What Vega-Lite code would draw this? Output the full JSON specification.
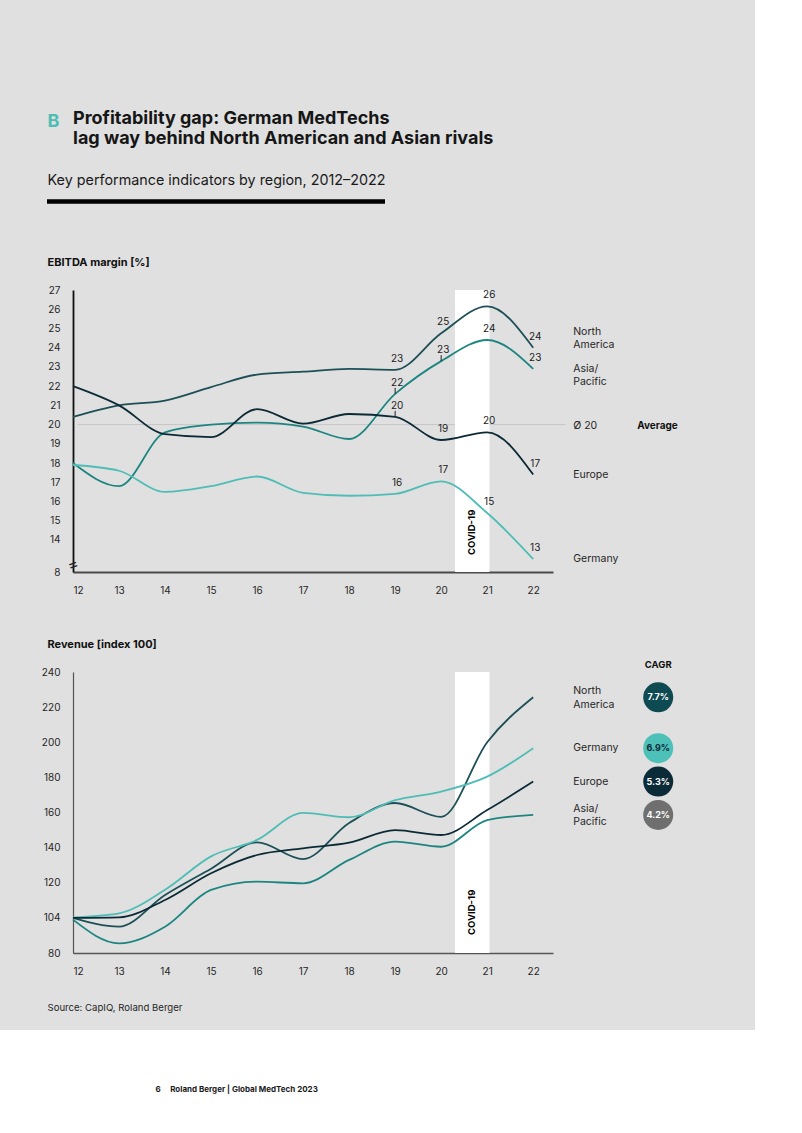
{
  "$schema": "https://vega.github.io/schema/vega-lite/v6.json",
  "width": 755,
  "height": 1030,
  "autosize": {"type": "none"},
  "padding": {"left": 0, "top": 0, "right": 47, "bottom": 103},
  "background": "#ffffff",
  "config": {
    "font": "Inter",
    "view": {"fill": "#e0e0e0", "stroke": null},
    "axis": {"labelFont": "Inter", "titleFont": "Inter", "grid": false, "ticks": false},
    "text": {"font": "Inter"}
  },
  "title": {
    "text": ["Profitability gap: German MedTechs", "lag way behind North American and Asian rivals"],
    "anchor": "start",
    "frame": "group",
    "orient": "top",
    "dx": 73,
    "offset": -148,
    "font": "Inter",
    "fontSize": 18,
    "fontWeight": "bold",
    "color": "#161616",
    "lineHeight": 20
  },
  "datasets": {
    "ebitda": [
      {"region": "North America", "year": 2012, "value": 20.4},
      {"region": "North America", "year": 2013, "value": 21.0},
      {"region": "North America", "year": 2014, "value": 21.25},
      {"region": "North America", "year": 2015, "value": 21.95},
      {"region": "North America", "year": 2016, "value": 22.6},
      {"region": "North America", "year": 2017, "value": 22.75},
      {"region": "North America", "year": 2018, "value": 22.9},
      {"region": "North America", "year": 2019, "value": 22.85},
      {"region": "North America", "year": 2020, "value": 24.75},
      {"region": "North America", "year": 2021, "value": 26.15},
      {"region": "North America", "year": 2022, "value": 24.0},
      {"region": "Asia/Pacific", "year": 2012, "value": 18.0},
      {"region": "Asia/Pacific", "year": 2013, "value": 16.8},
      {"region": "Asia/Pacific", "year": 2014, "value": 19.6},
      {"region": "Asia/Pacific", "year": 2015, "value": 20.0},
      {"region": "Asia/Pacific", "year": 2016, "value": 20.1},
      {"region": "Asia/Pacific", "year": 2017, "value": 19.9},
      {"region": "Asia/Pacific", "year": 2018, "value": 19.25},
      {"region": "Asia/Pacific", "year": 2019, "value": 21.6},
      {"region": "Asia/Pacific", "year": 2020, "value": 23.3},
      {"region": "Asia/Pacific", "year": 2021, "value": 24.4},
      {"region": "Asia/Pacific", "year": 2022, "value": 22.9},
      {"region": "Europe", "year": 2012, "value": 22.0},
      {"region": "Europe", "year": 2013, "value": 21.0},
      {"region": "Europe", "year": 2014, "value": 19.5},
      {"region": "Europe", "year": 2015, "value": 19.35},
      {"region": "Europe", "year": 2016, "value": 20.8},
      {"region": "Europe", "year": 2017, "value": 20.05},
      {"region": "Europe", "year": 2018, "value": 20.55},
      {"region": "Europe", "year": 2019, "value": 20.4},
      {"region": "Europe", "year": 2020, "value": 19.2},
      {"region": "Europe", "year": 2021, "value": 19.6},
      {"region": "Europe", "year": 2022, "value": 17.4},
      {"region": "Germany", "year": 2012, "value": 17.9},
      {"region": "Germany", "year": 2013, "value": 17.6},
      {"region": "Germany", "year": 2014, "value": 16.5},
      {"region": "Germany", "year": 2015, "value": 16.8},
      {"region": "Germany", "year": 2016, "value": 17.3},
      {"region": "Germany", "year": 2017, "value": 16.45},
      {"region": "Germany", "year": 2018, "value": 16.3},
      {"region": "Germany", "year": 2019, "value": 16.4},
      {"region": "Germany", "year": 2020, "value": 17.05},
      {"region": "Germany", "year": 2021, "value": 15.4},
      {"region": "Germany", "year": 2022, "value": 13.0}
    ],
    "revenue": [
      {"region": "North America", "year": 2012, "value": 100},
      {"region": "North America", "year": 2013, "value": 95},
      {"region": "North America", "year": 2014, "value": 113},
      {"region": "North America", "year": 2015, "value": 128},
      {"region": "North America", "year": 2016, "value": 143},
      {"region": "North America", "year": 2017, "value": 133.5},
      {"region": "North America", "year": 2018, "value": 154},
      {"region": "North America", "year": 2019, "value": 165.4},
      {"region": "North America", "year": 2020, "value": 157.5},
      {"region": "North America", "year": 2021, "value": 200},
      {"region": "North America", "year": 2022, "value": 225.6},
      {"region": "Germany", "year": 2012, "value": 100.3},
      {"region": "Germany", "year": 2013, "value": 102.6},
      {"region": "Germany", "year": 2014, "value": 116},
      {"region": "Germany", "year": 2015, "value": 135},
      {"region": "Germany", "year": 2016, "value": 144.4},
      {"region": "Germany", "year": 2017, "value": 159.8},
      {"region": "Germany", "year": 2018, "value": 157.3},
      {"region": "Germany", "year": 2019, "value": 167},
      {"region": "Germany", "year": 2020, "value": 171.9},
      {"region": "Germany", "year": 2021, "value": 180.4},
      {"region": "Germany", "year": 2022, "value": 196.6},
      {"region": "Europe", "year": 2012, "value": 100},
      {"region": "Europe", "year": 2013, "value": 100.3},
      {"region": "Europe", "year": 2014, "value": 110.2},
      {"region": "Europe", "year": 2015, "value": 125.4},
      {"region": "Europe", "year": 2016, "value": 135.8},
      {"region": "Europe", "year": 2017, "value": 139.6},
      {"region": "Europe", "year": 2018, "value": 142.8},
      {"region": "Europe", "year": 2019, "value": 150},
      {"region": "Europe", "year": 2020, "value": 147.2},
      {"region": "Europe", "year": 2021, "value": 161.4},
      {"region": "Europe", "year": 2022, "value": 177.6},
      {"region": "Asia/Pacific", "year": 2012, "value": 99},
      {"region": "Asia/Pacific", "year": 2013, "value": 85.5},
      {"region": "Asia/Pacific", "year": 2014, "value": 95},
      {"region": "Asia/Pacific", "year": 2015, "value": 115.9},
      {"region": "Asia/Pacific", "year": 2016, "value": 120.6},
      {"region": "Asia/Pacific", "year": 2017, "value": 119.7},
      {"region": "Asia/Pacific", "year": 2018, "value": 133},
      {"region": "Asia/Pacific", "year": 2019, "value": 143.4},
      {"region": "Asia/Pacific", "year": 2020, "value": 140.5},
      {"region": "Asia/Pacific", "year": 2021, "value": 155.7},
      {"region": "Asia/Pacific", "year": 2022, "value": 158.6}
    ],
    "regions": [
      {"region": "North America", "label": "North\nAmerica", "cagr": 7.7},
      {"region": "Germany", "label": "Germany", "cagr": 6.9},
      {"region": "Europe", "label": "Europe", "cagr": 5.3},
      {"region": "Asia/Pacific", "label": "Asia/\nPacific", "cagr": 4.2}
    ],
    "covid": [{"start": 2020.3, "end": 2021.05}],
    "average": [{"value": 20}]
  },
  "resolve": {"scale": {"x": "independent", "y": "independent"}},
  "layer": [
    {
      "data": {"values": [{"element": "subtitle rule"}]},
      "mark": {"type": "rule", "strokeWidth": 4.5, "color": "#000000"},
      "encoding": {
        "x": {
          "datum": 0,
          "type": "quantitative",
          "scale": {"domain": [0, 1], "range": [47, 385], "nice": false, "zero": false},
          "axis": {
            "orient": "top", "domain": false, "ticks": false, "labels": false, "grid": false,
            "title": "B", "titleX": 47, "titleY": 126, "titleAlign": "left", "titleBaseline": "alphabetic",
            "titleAngle": 0, "titleFontSize": 18, "titleFontWeight": "bold", "titleColor": "#4dbdb4"
          }
        },
        "x2": {"datum": 1},
        "y": {
          "datum": 0,
          "type": "quantitative",
          "scale": {"domain": [0, 1], "range": [201.5, 301.5], "nice": false, "zero": false},
          "axis": {
            "orient": "left", "domain": false, "ticks": false, "labels": false, "grid": false,
            "title": "Key performance indicators by region, 2012–2022", "titleX": 47, "titleY": 184,
            "titleAlign": "left", "titleBaseline": "alphabetic", "titleAngle": 0,
            "titleFontSize": 14.35, "titleFontWeight": "normal", "titleColor": "#1a1a1a"
          }
        }
      }
    },
    {
      "data": {"name": "ebitda"},
      "layer": [
        {
          "data": {"name": "average"},
          "mark": {"type": "rule", "color": "#c6c6c6", "strokeWidth": 1},
          "encoding": {
            "y": {"field": "value", "type": "quantitative"},
            "x": {"datum": 2012.1},
            "x2": {"datum": 2022.7}
          }
        },
        {
          "data": {"name": "covid"},
          "mark": {"type": "rect", "color": "#ffffff"},
          "encoding": {
            "x": {"field": "start", "type": "quantitative"},
            "x2": {"field": "end"},
            "y": {"datum": 8},
            "y2": {"datum": 27}
          }
        },
        {
          "mark": {"type": "line", "interpolate": "monotone", "strokeWidth": 1.8},
          "encoding": {
            "x": {
              "field": "year", "type": "quantitative",
              "scale": {"domain": [2012, 2022.43], "range": [73, 553], "nice": false, "zero": false},
              "axis": {
                "orient": "bottom", "offset": -458,
                "values": [2012, 2013, 2014, 2015, 2016, 2017, 2018, 2019, 2020, 2021, 2022],
                "labelExpr": "format(datum.value - 2000, 'd')",
                "domainColor": "#4a4a4a", "domainWidth": 2, "ticks": false, "grid": false,
                "labelPadding": 13, "labelFontSize": 10, "labelColor": "#262626", "labelBaseline": "top",
                "title": "6\u00a0\u00a0\u00a0\u00a0\u00a0Roland Berger | Global MedTech 2023",
                "titleX": 155, "titleY": 519, "titleAlign": "left", "titleBaseline": "alphabetic",
                "titleAngle": 0, "titleFontSize": 8, "titleFontWeight": "bold", "titleColor": "#1a1a1a"
              }
            },
            "y": {
              "field": "value", "type": "quantitative",
              "scale": {"domain": [8, 13, 27], "range": [572, 559.2, 290], "nice": false, "zero": false},
              "axis": {
                "orient": "left", "offset": -73,
                "values": [8, 14, 15, 16, 17, 18, 19, 20, 21, 22, 23, 24, 25, 26, 27],
                "domainColor": "#111111", "domainWidth": 1.8, "ticks": false, "grid": false,
                "labelPadding": 13, "labelFontSize": 10, "labelColor": "#262626",
                "title": "EBITDA margin [%]", "titleX": -26, "titleY": 265, "titleAlign": "left",
                "titleBaseline": "alphabetic", "titleAngle": 0, "titleFontSize": 11,
                "titleFontWeight": "bold", "titleColor": "#111111"
              }
            },
            "stroke": {
              "field": "region", "type": "nominal",
              "scale": {
                "domain": ["North America", "Asia/Pacific", "Europe", "Germany"],
                "range": ["#1d4f57", "#1d8580", "#0c2a36", "#4fbdb5"]
              },
              "legend": null
            }
          }
        },
        {
          "transform": [{"filter": "datum.year >= 2019"}],
          "mark": {"type": "text", "dx": 2, "dy": -11, "fontSize": 10, "color": "#222222", "baseline": "middle"},
          "encoding": {
            "x": {"field": "year", "type": "quantitative"},
            "y": {"field": "value", "type": "quantitative"},
            "text": {"field": "value", "type": "quantitative", "format": ".0f"}
          }
        },
        {
          "transform": [{"filter": "(datum.region === 'Asia/Pacific' && (datum.year === 2019 || datum.year === 2020)) || (datum.region === 'Europe' && datum.year === 2019)"}],
          "mark": {"type": "rule", "color": "#222222", "strokeWidth": 1, "yOffset": -6, "y2Offset": 0},
          "encoding": {
            "x": {"field": "year", "type": "quantitative"},
            "y": {"field": "value", "type": "quantitative"},
            "y2": {"field": "value"}
          }
        },
        {
          "transform": [
            {"filter": "datum.year === 2022 && datum.region !== 'North America'"},
            {"lookup": "region", "from": {"data": {"name": "regions"}, "key": "region", "fields": ["label"]}}
          ],
          "mark": {"type": "text", "align": "left", "baseline": "middle", "dx": 40, "dy": 0, "fontSize": 10.5, "color": "#262626", "lineBreak": "\n", "lineHeight": 13.5},
          "encoding": {
            "x": {"field": "year", "type": "quantitative"},
            "y": {"field": "value", "type": "quantitative"},
            "text": {"field": "label"}
          }
        },
        {
          "transform": [
            {"filter": "datum.year === 2022 && datum.region === 'North America'"},
            {"lookup": "region", "from": {"data": {"name": "regions"}, "key": "region", "fields": ["label"]}}
          ],
          "mark": {"type": "text", "align": "left", "baseline": "middle", "dx": 40, "dy": -16, "fontSize": 10.5, "color": "#262626", "lineBreak": "\n", "lineHeight": 13.5},
          "encoding": {
            "x": {"field": "year", "type": "quantitative"},
            "y": {"field": "value", "type": "quantitative"},
            "text": {"field": "label"}
          }
        },
        {
          "data": {"name": "average"},
          "transform": [{"calculate": "'Ø ' + datum.value", "as": "label"}],
          "mark": {"type": "text", "align": "left", "baseline": "middle", "dx": 40, "dy": 1, "fontSize": 10.5, "color": "#262626"},
          "encoding": {
            "x": {"datum": 2022},
            "y": {"field": "value", "type": "quantitative"},
            "text": {"field": "label"}
          }
        },
        {
          "data": {"name": "average"},
          "mark": {"type": "text", "align": "left", "baseline": "middle", "dx": 104, "dy": 1, "fontSize": 10, "fontWeight": "bold", "color": "#111111", "text": "Average"},
          "encoding": {
            "x": {"datum": 2022},
            "y": {"field": "value", "type": "quantitative"}
          }
        },
        {
          "data": {"values": [{"from": 8, "to": 14}]},
          "mark": {"type": "text", "text": "=", "angle": -20, "fontSize": 16, "color": "#222222", "baseline": "middle"},
          "encoding": {
            "x": {"datum": 2012},
            "y": {"datum": 10.8}
          }
        },
        {
          "data": {"name": "covid"},
          "transform": [{"calculate": "(datum.start + datum.end) / 2", "as": "mid"}],
          "mark": {"type": "text", "text": "COVID-19", "angle": 270, "align": "left", "baseline": "middle", "dx": 17, "fontSize": 9.5, "fontWeight": "bold", "color": "#000000"},
          "encoding": {
            "x": {"field": "mid", "type": "quantitative"},
            "y": {"datum": 8}
          }
        }
      ]
    },
    {
      "data": {"name": "revenue"},
      "layer": [
        {
          "data": {"name": "covid"},
          "mark": {"type": "rect", "color": "#ffffff"},
          "encoding": {
            "x": {"field": "start", "type": "quantitative"},
            "x2": {"field": "end"},
            "y": {"datum": 80},
            "y2": {"datum": 240}
          }
        },
        {
          "mark": {"type": "line", "interpolate": "monotone", "strokeWidth": 1.8},
          "encoding": {
            "x": {
              "field": "year", "type": "quantitative",
              "scale": {"domain": [2012, 2022.43], "range": [73, 553], "nice": false, "zero": false},
              "axis": {
                "orient": "bottom", "offset": -77,
                "values": [2012, 2013, 2014, 2015, 2016, 2017, 2018, 2019, 2020, 2021, 2022],
                "labelExpr": "format(datum.value - 2000, 'd')",
                "domainColor": "#555555", "domainWidth": 1.5, "ticks": false, "grid": false,
                "labelPadding": 13, "labelFontSize": 10, "labelColor": "#262626", "labelBaseline": "top",
                "title": "Source: CapIQ, Roland Berger",
                "titleX": 47, "titleY": 57.5, "titleAlign": "left", "titleBaseline": "alphabetic",
                "titleAngle": 0, "titleFontSize": 9.6, "titleFontWeight": "normal", "titleColor": "#262626"
              }
            },
            "y": {
              "field": "value", "type": "quantitative",
              "scale": {"domain": [80, 240], "range": [953, 672], "nice": false, "zero": false},
              "axis": {
                "orient": "left", "offset": -73,
                "values": [80, 100, 120, 140, 160, 180, 200, 220, 240],
                "labelExpr": "datum.value === 100 ? '104' : datum.label",
                "domainColor": "#555555", "domainWidth": 1.2, "ticks": false, "grid": false,
                "labelPadding": 13, "labelFontSize": 10, "labelColor": "#262626",
                "title": "Revenue [index 100]", "titleX": -26, "titleY": 647, "titleAlign": "left",
                "titleBaseline": "alphabetic", "titleAngle": 0, "titleFontSize": 11,
                "titleFontWeight": "bold", "titleColor": "#111111"
              }
            },
            "stroke": {"field": "region", "type": "nominal", "legend": null}
          }
        },
        {
          "transform": [
            {"filter": "datum.year === 2022 && (datum.region === 'Germany' || datum.region === 'Europe')"},
            {"lookup": "region", "from": {"data": {"name": "regions"}, "key": "region", "fields": ["label"]}}
          ],
          "mark": {"type": "text", "align": "left", "baseline": "middle", "dx": 40, "fontSize": 10.5, "color": "#262626", "lineBreak": "\n", "lineHeight": 13.5},
          "encoding": {
            "x": {"field": "year", "type": "quantitative"},
            "y": {"field": "value", "type": "quantitative"},
            "text": {"field": "label"}
          }
        },
        {
          "transform": [
            {"filter": "datum.year === 2022 && (datum.region === 'North America' || datum.region === 'Asia/Pacific')"},
            {"lookup": "region", "from": {"data": {"name": "regions"}, "key": "region", "fields": ["label"]}}
          ],
          "mark": {"type": "text", "align": "left", "baseline": "middle", "dx": 40, "dy": -6, "fontSize": 10.5, "color": "#262626", "lineBreak": "\n", "lineHeight": 13.5},
          "encoding": {
            "x": {"field": "year", "type": "quantitative"},
            "y": {"field": "value", "type": "quantitative"},
            "text": {"field": "label"}
          }
        },
        {
          "transform": [
            {"filter": "datum.year === 2022"},
            {"lookup": "region", "from": {"data": {"name": "regions"}, "key": "region", "fields": ["cagr"]}}
          ],
          "mark": {"type": "point", "shape": "circle", "filled": true, "size": 900, "opacity": 1, "xOffset": 125, "strokeWidth": 0},
          "encoding": {
            "x": {"field": "year", "type": "quantitative"},
            "y": {"field": "value", "type": "quantitative"},
            "fill": {
              "field": "region", "type": "nominal",
              "scale": {
                "domain": ["North America", "Germany", "Europe", "Asia/Pacific"],
                "range": ["#0e4a51", "#4dc0b8", "#0c2b38", "#6f6f6f"]
              },
              "legend": null
            }
          }
        },
        {
          "transform": [
            {"filter": "datum.year === 2022"},
            {"lookup": "region", "from": {"data": {"name": "regions"}, "key": "region", "fields": ["cagr"]}},
            {"calculate": "format(datum.cagr, '.1f') + '%'", "as": "cagr_label"}
          ],
          "mark": {"type": "text", "align": "center", "baseline": "middle", "dx": 125, "fontSize": 9, "fontWeight": "bold"},
          "encoding": {
            "x": {"field": "year", "type": "quantitative"},
            "y": {"field": "value", "type": "quantitative"},
            "text": {"field": "cagr_label"},
            "color": {"condition": {"test": "datum.region === 'Germany'", "value": "#0c2a36"}, "value": "#ffffff"}
          }
        },
        {
          "data": {"values": [{"header": "CAGR"}]},
          "mark": {"type": "text", "align": "center", "baseline": "middle", "dx": 125, "dy": -7, "fontSize": 9.5, "fontWeight": "bold", "color": "#111111"},
          "encoding": {
            "x": {"datum": 2022},
            "y": {"datum": 240},
            "text": {"field": "header"}
          }
        },
        {
          "data": {"name": "covid"},
          "transform": [{"calculate": "(datum.start + datum.end) / 2", "as": "mid"}],
          "mark": {"type": "text", "text": "COVID-19", "angle": 270, "align": "left", "baseline": "middle", "dx": 18, "fontSize": 9.5, "fontWeight": "bold", "color": "#000000"},
          "encoding": {
            "x": {"field": "mid", "type": "quantitative"},
            "y": {"datum": 80}
          }
        }
      ]
    }
  ]
}
